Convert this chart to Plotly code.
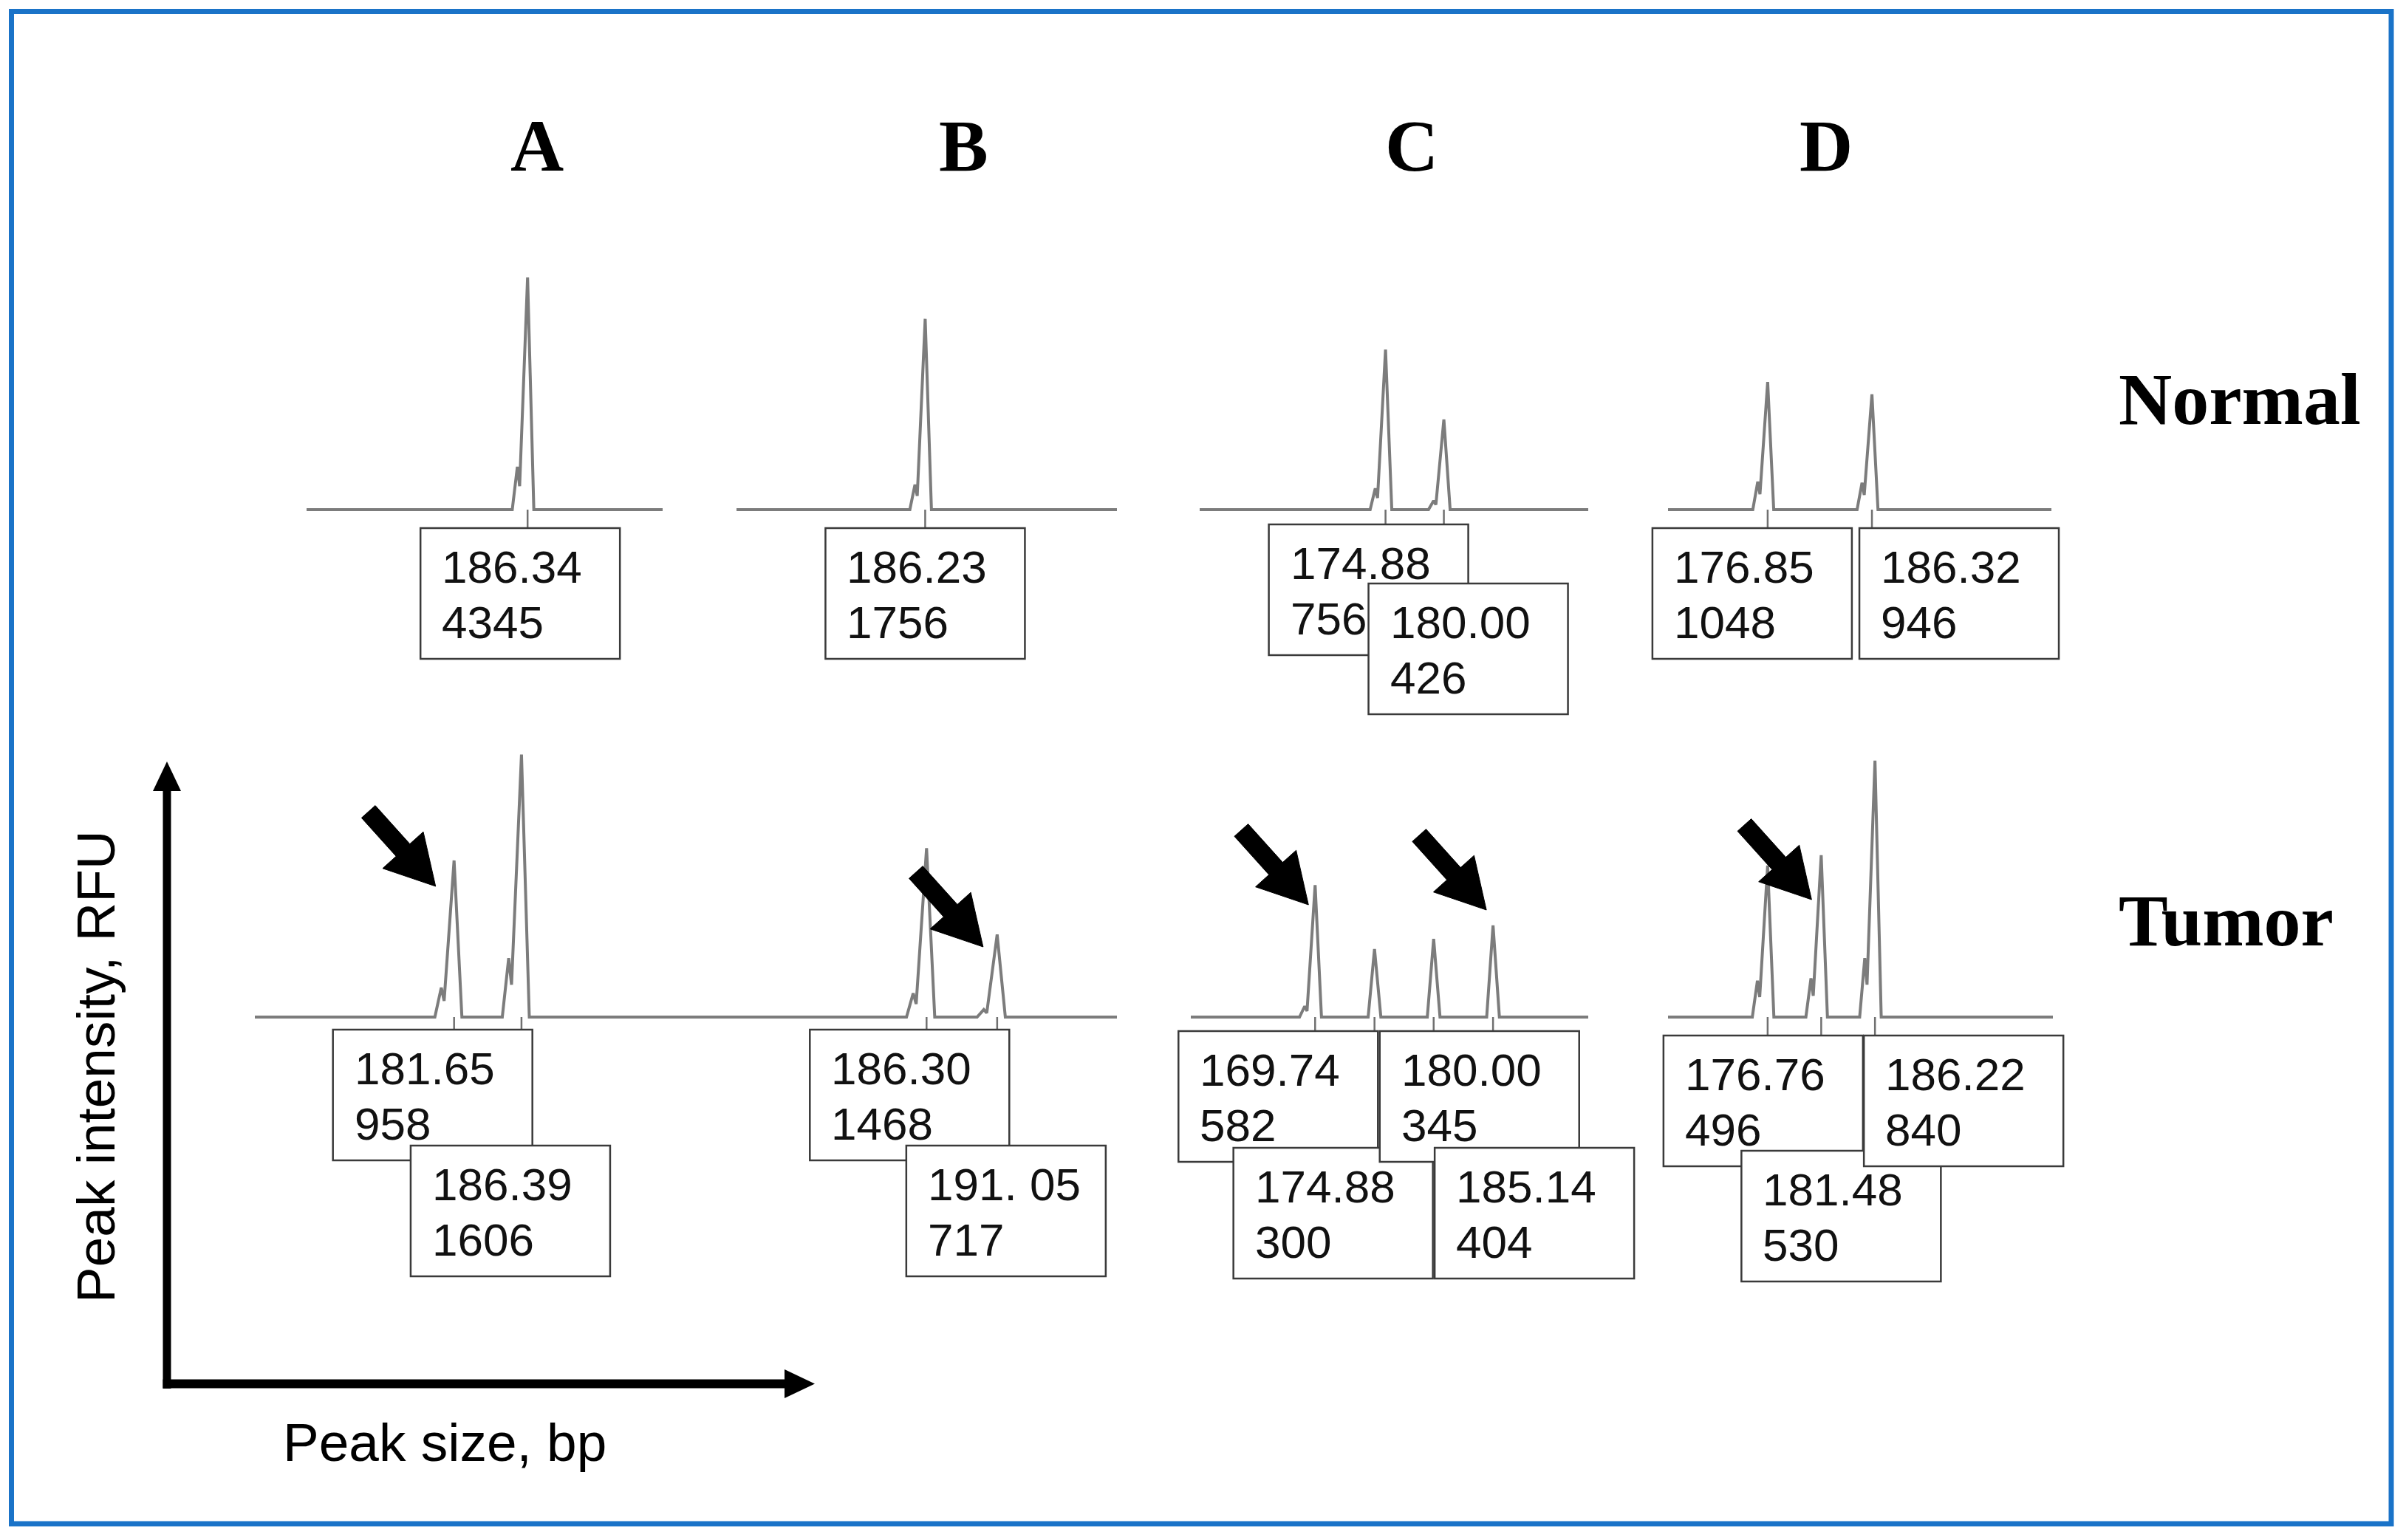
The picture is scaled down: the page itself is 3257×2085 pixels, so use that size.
import math
import plotly.graph_objects as go

# ---------------- data ----------------
COLUMNS = ["A", "B", "C", "D"]
ROWS = ["Normal", "Tumor"]

NORMAL_SIZES = [[186.34], [186.23], [174.88, 180.00], [176.85, 186.32]]
NORMAL_RFU = [[4345], [1756], [756, 426], [1048, 946]]
NORMAL_LABELS = [["186.34"], ["186.23"], ["174.88", "180.00"], ["176.85", "186.32"]]
NORMAL_SHOULDER_RFU = [[800], [230], [100, 42], [230, 220]]

TUMOR_SIZES = [[181.65, 186.39], [186.30, 191.05], [169.74, 174.88, 180.00, 185.14], [176.76, 181.48, 186.22]]
TUMOR_RFU = [[958, 1606], [1468, 717], [582, 300, 345, 404], [496, 530, 840]]
TUMOR_LABELS = [["181.65", "186.39"], ["186.30", "191. 05"], ["169.74", "174.88", "180.00", "185.14"],
                ["176.76", "181.48", "186.22"]]
TUMOR_SHOULDER_RFU = [[180, 360], [207, 65], [48, 0, 0, 0], [119, 127, 193]]
TUMOR_ARROWED = [[181.65], [191.05], [169.74, 185.14], [181.48]]

X_TITLE = "Peak size, bp"
Y_TITLE = "Peak intensity, RFU"

# ---------------- layout / style ----------------
W, H = 3257, 2085
OFF = 8          # page body margin in the browser
PAD_BELOW = 420  # px of panel kept under the baseline (room for the label boxes)
PAD_SIDE = 90    # px of panel kept left/right of the trace

# trace x extents (px) and the bp values at those extents
PANEL_XPX = {
    ("Normal", 0): (415, 897), ("Normal", 1): (997, 1512), ("Normal", 2): (1624, 2150), ("Normal", 3): (2258, 2777),
    ("Tumor", 0): (345, 930), ("Tumor", 1): (930, 1512), ("Tumor", 2): (1612, 2150), ("Tumor", 3): (2258, 2779),
}
PANEL_XRANGE = {
    ("Normal", 0): (166.88, 198.23), ("Normal", 1): (169.61, 203.12), ("Normal", 2): (158.57, 192.67),
    ("Normal", 3): (167.80, 202.62),
    ("Tumor", 0): (167.64, 198.03), ("Tumor", 1): (170.18, 199.11), ("Tumor", 2): (158.98, 193.38),
    ("Tumor", 3): (167.98, 201.90),
}
PANEL_YMAX = {
    ("Normal", 0): 4518, ("Normal", 1): 2223, ("Normal", 2): 1141, ("Normal", 3): 1982,
    ("Tumor", 0): 1672, ("Tumor", 1): 2375, ("Tumor", 2): 1205, ("Tumor", 3): 895,
}
ROW_YPX = {"Normal": (363, 690), "Tumor": (1007, 1377)}  # top, baseline

# label box placement: (dx from peak to box left, dy from baseline to box top), px
BOX_POS = {
    ("Normal", 0): [(-145, 25)],
    ("Normal", 1): [(-135, 25)],
    ("Normal", 2): [(-158, 20), (-102, 100)],
    ("Normal", 3): [(-156, 25), (-17, 25)],
    ("Tumor", 0): [(-164, 17), (-150, 174)],
    ("Tumor", 1): [(-158, 17), (-123, 174)],
    ("Tumor", 2): [(-185, 19), (-191, 177), (-73, 19), (-79, 177)],
    ("Tumor", 3): [(-141, 25), (-108, 181), (-15, 25)],
}
BOX_W, BOX_H = 270, 177
# arrow tip offset from (peak, baseline): (dx, height above baseline) px
ARROW_TIP = {
    ("Tumor", 0): [(-25, 177)],
    ("Tumor", 1): [(-19, 95)],
    ("Tumor", 2): [(-9, 152), (-9, 145)],
    ("Tumor", 3): [(-13, 159)],
}

TRACE_COLOR = "#7c7c7c"
BOX_LINE = "#3a3a3a"
BORDER_BLUE = "#1a73c8"
LABEL_FONT = "Liberation Sans, Arial, sans-serif"
SERIF = "Liberation Serif, Times New Roman, serif"
SANS = "Liberation Sans, Arial, sans-serif"


def px(x):
    return (x - OFF) / W


def py(y):
    return 1 - (y - OFF) / H


def peak_glyph(p, h, s):
    if s > 0:
        return [(p - 1.35, 0), (p - 0.9, s), (p - 0.7, 0.55 * s), (p, h), (p + 0.55, 0)]
    return [(p - 0.55, 0), (p, h), (p + 0.55, 0)]


def arrow_path(tx, ty, L=136, sw=25, hw=74, hl=66, ang=48):
    a = math.radians(ang)
    ux, uy = math.cos(a), -math.sin(a)
    vx, vy = math.sin(a), math.cos(a)
    tail = (tx - L * ux, ty - L * uy)
    neck = (tx - hl * ux, ty - hl * uy)
    pts = [
        (tail[0] + vx * sw / 2, tail[1] + vy * sw / 2),
        (neck[0] + vx * sw / 2, neck[1] + vy * sw / 2),
        (neck[0] + vx * hw / 2, neck[1] + vy * hw / 2),
        (tx, ty),
        (neck[0] - vx * hw / 2, neck[1] - vy * hw / 2),
        (neck[0] - vx * sw / 2, neck[1] - vy * sw / 2),
        (tail[0] - vx * sw / 2, tail[1] - vy * sw / 2),
    ]
    return "M " + " L ".join(f"{x:.1f},{y:.1f}" for x, y in pts) + " Z"


fig = go.Figure()
layout = dict(
    width=W, height=H, margin=dict(l=0, r=0, t=0, b=0),
    paper_bgcolor="white", plot_bgcolor="rgba(0,0,0,0)", showlegend=False,
)
shapes = []
annotations = []

ROW_DATA = {
    "Normal": (NORMAL_SIZES, NORMAL_RFU, NORMAL_LABELS, NORMAL_SHOULDER_RFU),
    "Tumor": (TUMOR_SIZES, TUMOR_RFU, TUMOR_LABELS, TUMOR_SHOULDER_RFU),
}

k = 0
for row in ROWS:
    sizes_all, rfu_all, labels_all, sh_all = ROW_DATA[row]
    top, base = ROW_YPX[row]
    for c in range(4):
        k += 1
        key = (row, c)
        xa, ya = f"x{k}", f"y{k}"
        x0p, x1p = PANEL_XPX[key]
        xr = PANEL_XRANGE[key]
        bp_per_px = (xr[1] - xr[0]) / (x1p - x0p)
        ax_range = [xr[0] - PAD_SIDE * bp_per_px, xr[1] + PAD_SIDE * bp_per_px]
        ymax = PANEL_YMAX[key]
        ymin = -ymax * PAD_BELOW / (base - top)
        layout[f"xaxis{k}"] = dict(domain=[px(x0p - PAD_SIDE), px(x1p + PAD_SIDE)], range=ax_range,
                                   visible=False, anchor=ya, fixedrange=True)
        layout[f"yaxis{k}"] = dict(domain=[py(base + PAD_BELOW), py(top)], range=[ymin, ymax],
                                   visible=False, anchor=xa, fixedrange=True)

        sizes, rfu, labels, shoulders = sizes_all[c], rfu_all[c], labels_all[c], sh_all[c]
        pts = [(xr[0], 0)]
        for p, h, s in sorted(zip(sizes, rfu, shoulders)):
            pts += peak_glyph(p, h, s)
        pts.append((xr[1], 0))
        fig.add_trace(go.Scatter(
            x=[q[0] for q in pts], y=[q[1] for q in pts], mode="lines",
            line=dict(color=TRACE_COLOR, width=4), xaxis=xa, yaxis=ya, hoverinfo="skip",
        ))

        # tick marks + labelled boxes
        positions = BOX_POS[key]
        tick_len = min(d[1] for d in positions)
        for p in sizes:
            shapes.append(dict(type="line", xref=xa, yref=ya, ysizemode="pixel", yanchor=0,
                               x0=p, x1=p, y0=0, y1=-tick_len, line=dict(color="#707070", width=2.5),
                               layer="above"))
        for (p, h, lab), (dx, dy) in zip(zip(sizes, rfu, labels), positions):
            shapes.append(dict(type="rect", xref=xa, yref=ya, xsizemode="pixel", ysizemode="pixel",
                               xanchor=p, yanchor=0, x0=dx, x1=dx + BOX_W, y0=-dy, y1=-dy - BOX_H,
                               line=dict(color=BOX_LINE, width=2.5), fillcolor="white", layer="above"))
            for txt, off in ((lab, 52), (str(h), 127)):
                annotations.append(dict(xref=xa, yref=ya, x=p, y=0, text=txt, showarrow=False,
                                        xanchor="left", yanchor="middle", xshift=dx + 27,
                                        yshift=-(dy + off),
                                        font=dict(family=LABEL_FONT, size=62, color="#111111")))

        # arrows to new alleles
        if row == "Tumor":
            for p, (tx, ty) in zip(TUMOR_ARROWED[c], ARROW_TIP[key]):
                shapes.append(dict(type="path", xref=xa, yref=ya, xsizemode="pixel",
                                   ysizemode="pixel", xanchor=p, yanchor=0,
                                   path=arrow_path(tx, ty), fillcolor="black",
                                   line=dict(color="black", width=1), layer="above"))

# column letters and row names
COL_X = [727, 1304, 1911, 2472]
for name, xc in zip(COLUMNS, COL_X):
    annotations.append(dict(xref="paper", yref="paper", x=px(xc), y=py(197), text=name,
                            showarrow=False, xanchor="center", yanchor="middle",
                            font=dict(family=SERIF, size=100, color="black", weight="bold")))
for name, yc in zip(ROWS, [540, 1246]):
    annotations.append(dict(xref="paper", yref="paper", x=px(2866), y=py(yc), text=name,
                            showarrow=False, xanchor="left", yanchor="middle",
                            font=dict(family=SERIF, size=100, color="black", weight="bold")))

# axis titles
annotations.append(dict(xref="paper", yref="paper", x=px(602), y=py(1952), text=X_TITLE,
                        showarrow=False, xanchor="center", yanchor="middle",
                        font=dict(family=SANS, size=73, color="black")))
annotations.append(dict(xref="paper", yref="paper", x=px(129), y=py(1444), text=Y_TITLE,
                        showarrow=False, xanchor="center", yanchor="middle", textangle=-90,
                        font=dict(family=SANS, size=73, color="black")))


def poly(pts):
    return "M " + " L ".join(f"{px(x):.5f},{py(y):.5f}" for x, y in pts) + " Z"


# axis arrows (schematic axes)
shapes.append(dict(type="path", xref="paper", yref="paper", fillcolor="black", line=dict(width=0),
                   path=poly([(220.5, 1068), (231.5, 1068), (231.5, 1880), (220.5, 1880)])))
shapes.append(dict(type="path", xref="paper", yref="paper", fillcolor="black", line=dict(width=0),
                   path=poly([(207, 1071), (226, 1031), (245, 1071)])))
shapes.append(dict(type="path", xref="paper", yref="paper", fillcolor="black", line=dict(width=0),
                   path=poly([(220.5, 1867.5), (1066, 1867.5), (1066, 1879.5), (220.5, 1879.5)])))
shapes.append(dict(type="path", xref="paper", yref="paper", fillcolor="black", line=dict(width=0),
                   path=poly([(1062, 1854), (1103, 1873.5), (1062, 1893)])))

# blue frame
shapes.append(dict(type="rect", xref="paper", yref="paper", x0=px(15.5), x1=px(3237), y0=py(2063),
                   y1=py(15.5), line=dict(color=BORDER_BLUE, width=7), fillcolor="rgba(0,0,0,0)"))

layout["shapes"] = shapes
layout["annotations"] = annotations
fig.update_layout(**layout)
fig.write_html("out.html")
